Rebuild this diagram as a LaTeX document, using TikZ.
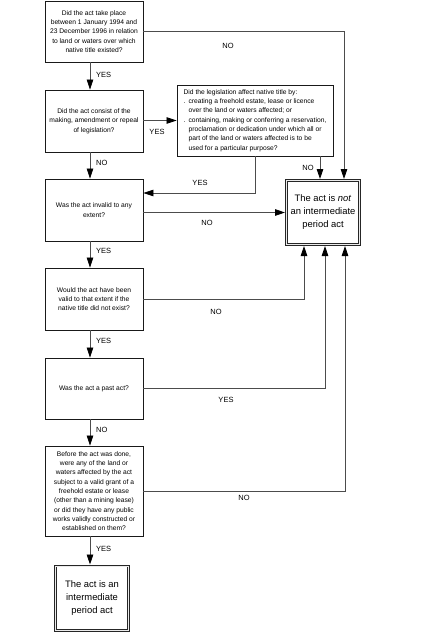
\documentclass[tikz,border=0pt]{standalone}
\usepackage{fontspec}
\setmainfont{Liberation Sans}
\usetikzlibrary{arrows.meta}
\begin{document}
\begin{tikzpicture}[x=1pt,y=-1pt,
  q/.style={draw=black!90, line width=0.9pt, fill=white, inner sep=0pt, align=center,
    font=\fontsize{6.7}{9.3}\selectfont, minimum width=98pt},
  res/.style={draw=black!85, line width=1pt, double=black!8, double distance=0.9pt, outer sep=1.45pt,
    inner sep=0pt, align=center, font=\fontsize{9.4}{13}\selectfont,
    minimum width=73.1pt, minimum height=64.1pt},
  arr/.style={draw=black!70, line width=0.8pt, -{Triangle[length=10pt,width=6.5pt,color=black,fill=black]}},
  lbl/.style={font=\fontsize{7.5}{9}\selectfont, inner sep=0pt}
]
\useasboundingbox (0,0) rectangle (426,632);
\coordinate (ax) at (90,0);

\node[q, minimum height=61pt] (q1) at (94,31.5)
  {Did the act take place\\between 1 January 1994 and\\23 December 1996 in relation\\to land or waters over which\\native title existed?};
\node[q, minimum height=62pt] (q2) at (94,121)
  {Did the act consist of the\\making, amendment or repeal\\of legislation?};
\node[q, align=left, minimum width=156pt, minimum height=71pt] (q3) at (255,120.5)
  {Did the legislation affect native title by:\\
   \makebox[5pt][l]{.}creating a freehold estate, lease or licence\\
   \hspace*{5pt}over the land or waters affected; or\\
   \makebox[5pt][l]{.}containing, making or conferring a reservation,\\
   \hspace*{5pt}proclamation or dedication under which all or\\
   \hspace*{5pt}part of the land or waters affected is to be\\
   \hspace*{5pt}used for a particular purpose?};
\node[q, minimum height=62pt] (q4) at (94,210)
  {Was the act invalid to any\\extent?};
\node[q, minimum height=62pt] (q5) at (94,299)
  {Would the act have been\\valid to that extent if the\\native title did not exist?};
\node[q, minimum height=61pt] (q6) at (94,388.5)
  {Was the act a past act?};
\node[q, minimum height=90pt] (q7) at (94,491)
  {Before the act was done,\\were any of the land or\\waters affected by the act\\subject to a valid grant of a\\freehold estate or lease\\(other than a mining lease)\\or did they have any public\\works validly constructed or\\established on them?};
\node[res] (notact) at (323,212.5) {The act is \textit{not}\\an intermediate\\period act};
\node[res] (isact) at (92,598) {The act is an\\intermediate\\period act};

% connectors
\draw[arr] (q1.south -| ax) -- (q2.north -| ax);
\draw[arr] (q1.east) -| ([xshift=21pt]notact.north);
\draw[arr] (q2.east |- q3.west) -- (q3.west);
\draw[arr] (q2.south -| ax) -- (q4.north -| ax);
\draw[arr] ([xshift=65pt]q3.south) -- ([xshift=-3pt]notact.north);
\draw[arr] (q3.south) |- ([yshift=17pt]q4.east);
\draw[arr] (q4.east |- notact.west) -- (notact.west);
\draw[arr] (q4.south -| ax) -- (q5.north -| ax);
\draw[arr] (q5.east) -| ([xshift=-19pt]notact.south);
\draw[arr] (q5.south -| ax) -- (q6.north -| ax);
\draw[arr] (q6.east) -| ([xshift=2pt]notact.south);
\draw[arr] (q6.south -| ax) -- (q7.north -| ax);
\draw[arr] (q7.east) -| ([xshift=22pt]notact.south);
\draw[arr] (q7.south -| ax) -- (isact.north -| ax);

% labels
\node[lbl, anchor=west] (l1) at (96,75) {YES};
\node[lbl] (l2) at (228,46) {NO};
\node[lbl] (l3) at (157,132) {YES};
\node[lbl, anchor=west] (l4) at (96,163) {NO};
\node[lbl] (l5) at (308,168) {NO};
\node[lbl] (l6) at (200,183) {YES};
\node[lbl] (l7) at (207,223) {NO};
\node[lbl, anchor=west] (l8) at (96,251) {YES};
\node[lbl] (l9) at (216,312) {NO};
\node[lbl, anchor=west] (l10) at (96,341) {YES};
\node[lbl] (l11) at (226,400) {YES};
\node[lbl, anchor=west] (l12) at (96,430) {NO};
\node[lbl] (l13) at (244,498) {NO};
\node[lbl, anchor=west] (l14) at (96,549) {YES};
\end{tikzpicture}
\end{document}
